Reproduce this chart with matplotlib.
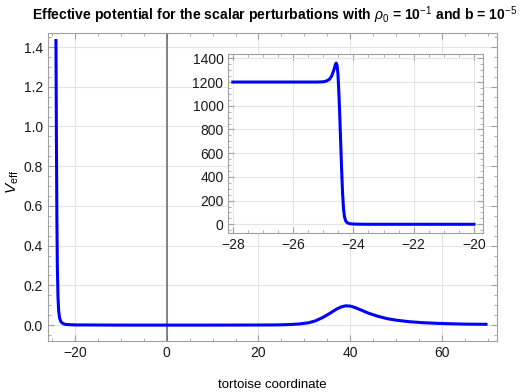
import numpy as np
import matplotlib.pyplot as plt
from matplotlib.ticker import MultipleLocator

plt.rcParams['font.family'] = ['Liberation Sans', 'DejaVu Sans']
plt.rcParams['mathtext.fontset'] = 'custom'
plt.rcParams['mathtext.rm'] = 'Liberation Sans'
plt.rcParams['mathtext.it'] = 'Liberation Sans:italic'
plt.rcParams['mathtext.bf'] = 'Liberation Sans:bold'

# main curve: tortoise coordinate vs V_eff
r_star = [-24.2, -24.1, -24.0, -23.9, -23.75, -23.6, -23.4, -23.1, -22.6, -22.0,
          -20.0, -10.0, 0.0, 10.0, 20.0, 24.0, 27.0, 29.0, 31.0, 32.5, 34.0,
          35.5, 37.0, 38.0, 39.0, 40.0, 41.0, 42.5, 44.0, 46.0, 48.0, 50.0,
          53.0, 56.0, 60.0, 65.0, 70.0]
v_eff = [1.44, 0.95, 0.55, 0.30, 0.14, 0.07, 0.035, 0.016, 0.007, 0.003,
         0.001, 0.0, 0.0, 0.0, 0.0005, 0.001, 0.003, 0.006, 0.012, 0.022, 0.038,
         0.058, 0.080, 0.091, 0.097, 0.096, 0.089, 0.075, 0.060, 0.045, 0.033, 0.025,
         0.017, 0.012, 0.008, 0.005, 0.004]

# inset: zoom on the left barrier
r_in = [-28.0, -26.0, -25.2, -25.0, -24.9, -24.8, -24.72, -24.65, -24.6, -24.57,
        -24.54, -24.51, -24.48, -24.45, -24.42, -24.39, -24.36, -24.33, -24.3,
        -24.26, -24.2, -24.1, -23.9, -23.5, -22.0, -20.0]
v_in = [1200, 1200, 1200, 1202, 1208, 1222, 1250, 1300, 1345, 1360,
        1340, 1260, 1100, 900, 680, 460, 270, 140, 70,
        30, 12, 4, 1, 0, 0, 0]

fig = plt.figure(figsize=(5.23, 3.92), dpi=100)
ax = fig.add_axes([47.7/523, 1 - 341/392, (496.7 - 47.7)/523, (341 - 33.3)/392])

frame_col = '#a0a0a0'
grid_col = '#e4e4e4'

def style(a):
    for s in a.spines.values():
        s.set_color(frame_col)
        s.set_linewidth(0.8)
    a.tick_params(which='both', direction='in', top=True, right=True,
                  color=frame_col, labelsize=10, labelcolor='#1a1a1a')
    a.tick_params(which='major', length=4)
    a.tick_params(which='minor', length=2.2)
    a.grid(True, which='major', color=grid_col, lw=0.8)
    a.set_axisbelow(True)

style(ax)
ax.plot(r_star, v_eff, color='#0000ff', lw=2.2, solid_capstyle='butt', zorder=3)
ax.axvline(0, color='#707070', lw=1.2, zorder=2)
ax.set_xlim(-26, 72)
ax.set_ylim(-0.08, 1.469)
ax.xaxis.set_major_locator(MultipleLocator(20))
ax.xaxis.set_minor_locator(MultipleLocator(5))
ax.yaxis.set_major_locator(MultipleLocator(0.2))
ax.yaxis.set_minor_locator(MultipleLocator(0.05))
ax.yaxis.set_major_formatter(lambda v, p: f'{v:.1f}')
ax.set_xlabel('tortoise coordinate', fontsize=9.5, labelpad=14)
fig.text(13/523, 1 - 182/392, r'$V_{\mathrm{eff}}$', fontsize=11, rotation=90,
         ha='center', va='center')
fig.text(275/523, 1 - 15/392,
         r'Effective potential for the scalar perturbations with $\rho_0$ = 10$^{-1}$ and b = 10$^{-5}$',
         fontsize=10.1, fontweight='bold', ha='center', va='center')

axi = fig.add_axes([228.3/523, 1 - 232.7/392, (483.3 - 228.3)/523, (232.7 - 54.3)/392])
style(axi)
axi.set_facecolor('white')
axi.plot(r_in, v_in, color='#0000ff', lw=2.2, zorder=3)
axi.set_xlim(-28.15, -19.69)
axi.set_ylim(-71, 1434)
axi.xaxis.set_major_locator(MultipleLocator(2))
axi.xaxis.set_minor_locator(MultipleLocator(0.5))
axi.yaxis.set_major_locator(MultipleLocator(200))
axi.yaxis.set_minor_locator(MultipleLocator(50))

fig.savefig('out.png', dpi=100, facecolor='white')
